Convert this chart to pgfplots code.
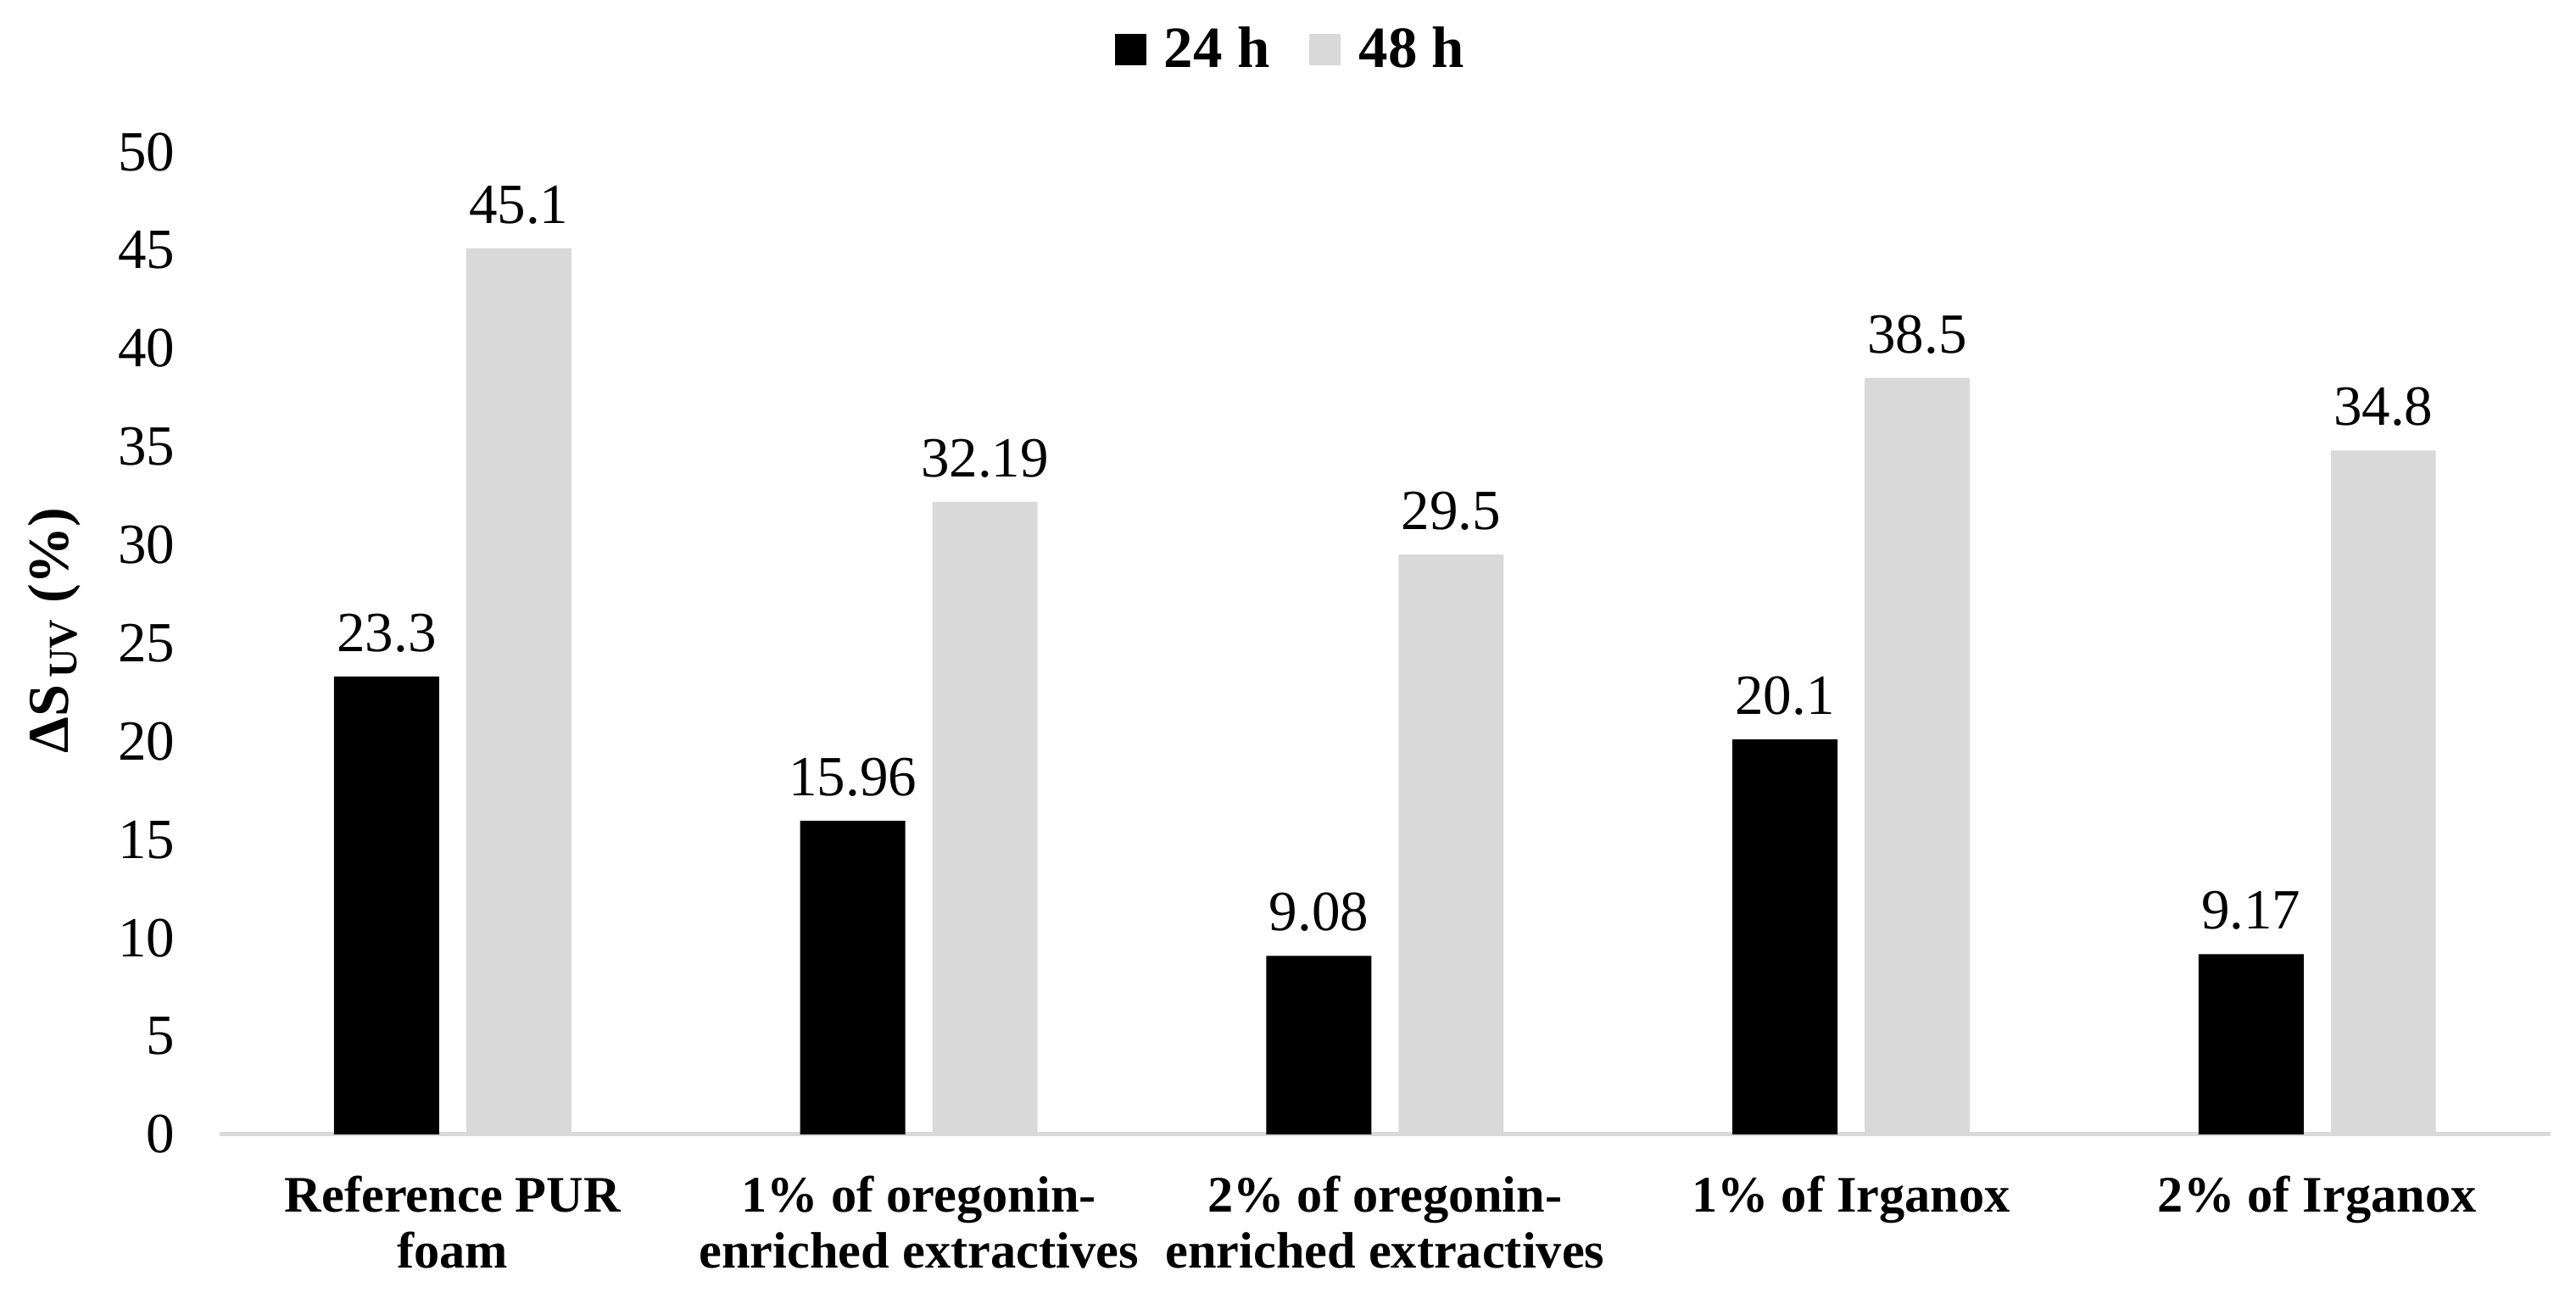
\documentclass[border=0pt]{standalone}
\usepackage{fontspec}
\setmainfont{Liberation Serif}
\usepackage{pgfplots}
\pgfplotsset{compat=1.18}
\definecolor{bargray}{HTML}{D9D9D9}

\begin{document}
\begin{tikzpicture}
\begin{axis}[
    scale only axis,
    width=705.7pt, height=297.5pt,
    ybar, bar width=0.2255,
    xmin=-0.5, xmax=4.5, ymin=0, ymax=50,
    ytick={0,5,...,50},
    xtick=data,
    xticklabels={
        Reference PUR\\foam,
        1\% of oregonin-\\enriched extractives,
        2\% of oregonin-\\enriched extractives,
        1\% of Irganox,
        2\% of Irganox
    },
    axis x line*=bottom, axis y line*=left,
    separate axis lines,
    x axis line style={draw=bargray, line width=1.3pt},
    y axis line style={draw=none},
    major tick length=0,
    /pgf/number format/assume math mode=true,
    yticklabel style={font=\fontsize{17.2}{20}\selectfont, xshift=-10pt},
    xticklabel style={font=\fontsize{15.5}{17}\selectfont\bfseries, align=center, yshift=-9pt},
    ylabel={\textbf{ΔS\textsubscript{\,UV} (\%)}},
    ylabel style={font=\fontsize{17.5}{20}\selectfont, at={(axis description cs:-0.0709,0.513)}, anchor=center},
    point meta=explicit symbolic,
    nodes near coords,
    nodes near coords style={font=\fontsize{17.2}{20}\selectfont, anchor=south, yshift=3.8pt},
    legend columns=2,
    legend style={at={(axis description cs:0.4605,1.104)}, anchor=center, draw=none,
        font=\fontsize{17.7}{20}\selectfont\bfseries,
        /tikz/every even column/.append style={column sep=10pt}},
    legend image code/.code={\fill[#1] (0pt,-4.75pt) rectangle (9.5pt,4.75pt); \path (13pt,0pt);},
]

    % 24 h
    \addplot[fill=black, draw=none, bar shift=-0.1418] coordinates {
        (0,23.3) [23.3] (1,15.96) [15.96] (2,9.08) [9.08] (3,20.1) [20.1] (4,9.17) [9.17]
    };

    % 48 h
    \addplot[fill=bargray, draw=none, bar shift=0.1418] coordinates {
        (0,45.1) [45.1] (1,32.19) [32.19] (2,29.5) [29.5] (3,38.5) [38.5] (4,34.8) [34.8]
    };

    \legend{24 h, 48 h};

\end{axis}
\pgfresetboundingbox
\path[use as bounding box] ([shift={(-66.5pt,-48pt)}]current axis.south west)
    rectangle ([shift={(7.8pt,46pt)}]current axis.north east);
\end{tikzpicture}
\end{document}
